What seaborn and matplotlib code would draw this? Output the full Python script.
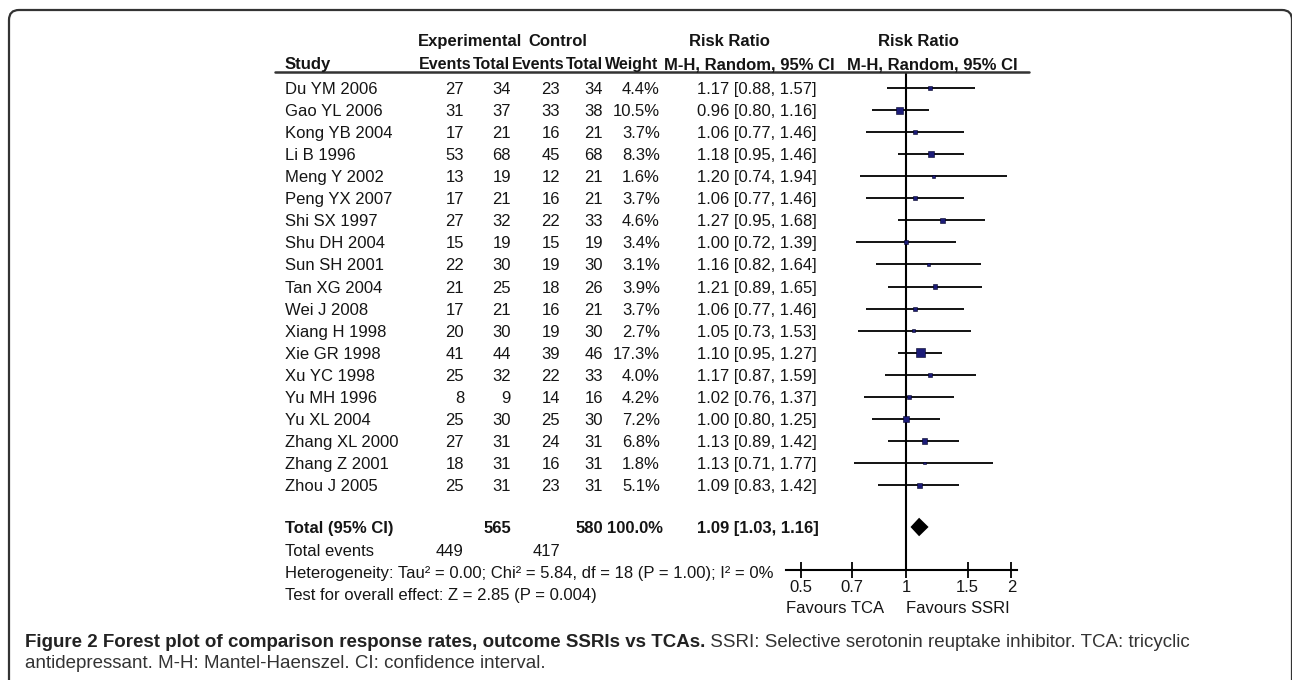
import numpy as np
import pandas as pd
import matplotlib
matplotlib.use("Agg")
import matplotlib.pyplot as plt
import matplotlib.transforms as mtransforms
from matplotlib.patches import FancyBboxPatch
from matplotlib import font_manager as fm
import seaborn as sns

# ---------------- data ----------------
studies = ["Du YM 2006", "Gao YL 2006", "Kong YB 2004", "Li B 1996", "Meng Y 2002",
           "Peng YX 2007", "Shi SX 1997", "Shu DH 2004", "Sun SH 2001", "Tan XG 2004",
           "Wei J 2008", "Xiang H 1998", "Xie GR 1998", "Xu YC 1998", "Yu MH 1996",
           "Yu XL 2004", "Zhang XL 2000", "Zhang Z 2001", "Zhou J 2005"]
exp_events = [27, 31, 17, 53, 13, 17, 27, 15, 22, 21, 17, 20, 41, 25, 8, 25, 27, 18, 25]
exp_total = [34, 37, 21, 68, 19, 21, 32, 19, 30, 25, 21, 30, 44, 32, 9, 30, 31, 31, 31]
ctrl_events = [23, 33, 16, 45, 12, 16, 22, 15, 19, 18, 16, 19, 39, 22, 14, 25, 24, 16, 23]
ctrl_total = [34, 38, 21, 68, 21, 21, 33, 19, 30, 26, 21, 30, 46, 33, 16, 30, 31, 31, 31]
weights = [4.4, 10.5, 3.7, 8.3, 1.6, 3.7, 4.6, 3.4, 3.1, 3.9, 3.7, 2.7, 17.3, 4.0, 4.2, 7.2, 6.8, 1.8, 5.1]
rr = [1.17, 0.96, 1.06, 1.18, 1.20, 1.06, 1.27, 1.00, 1.16, 1.21, 1.06, 1.05, 1.10, 1.17, 1.02, 1.00, 1.13, 1.13, 1.09]
ci_low = [0.88, 0.80, 0.77, 0.95, 0.74, 0.77, 0.95, 0.72, 0.82, 0.89, 0.77, 0.73, 0.95, 0.87, 0.76, 0.80, 0.89, 0.71, 0.83]
ci_high = [1.57, 1.16, 1.46, 1.46, 1.94, 1.46, 1.68, 1.39, 1.64, 1.65, 1.46, 1.53, 1.27, 1.59, 1.37, 1.25, 1.42, 1.77, 1.42]
total_rr, total_low, total_high = 1.09, 1.03, 1.16
total_exp_n, total_ctrl_n = 565, 580
total_exp_events, total_ctrl_events = 449, 417
total_weight = "100.0%"
axis_ticks = [0.5, 0.7, 1, 1.5, 2]
axis_tick_labels = ["0.5", "0.7", "1", "1.5", "2"]
favours_left, favours_right = "Favours TCA", "Favours SSRI"
column_heads = ["Events", "Total", "Events", "Total", "Weight"]
heterogeneity = "Heterogeneity: Tau\u00b2 = 0.00; Chi\u00b2 = 5.84, df = 18 (P = 1.00); I\u00b2 = 0%"
overall_test = "Test for overall effect: Z = 2.85 (P = 0.004)"
caption_bold = "Figure 2 Forest plot of comparison response rates, outcome SSRIs vs TCAs."
caption_rest1 = " SSRI: Selective serotonin reuptake inhibitor. TCA: tricyclic"
caption_rest2 = "antidepressant. M-H: Mantel-Haenszel. CI: confidence interval."

# ---------------- styling ----------------
sns.set_theme(style="white")
plt.rcParams['font.family'] = ['Liberation Sans', 'DejaVu Sans']
TXT = "#151515"
FS = 12
VA = "baseline"

W, H = 1292, 680
fig = plt.figure(figsize=(W / 100, H / 100), dpi=100)
fig.patch.set_facecolor("white")
renderer = fig.canvas.get_renderer()

def base_off(size):
    # distance (px) from visual centre of capitals to baseline
    return 0.36 * size * 100 / 72

def fx(px):
    return px / W

def fy(py, size=FS):
    return 1 - (py + base_off(size)) / H

# layout in pixels
row0, drow = 88, 22.06
ax_left, ax_right, ax_top, ax_bot = 786, 1017, 72, 570
x_one, px_per_ln = 906, 152

ax = fig.add_axes([ax_left / W, 1 - ax_bot / H, (ax_right - ax_left) / W, (ax_bot - ax_top) / H])
ax.set_facecolor("none")
ax.set_xscale("log")
ax.set_xlim(np.exp((ax_left - x_one) / px_per_ln), np.exp((ax_right - x_one) / px_per_ln))
ax.set_ylim((ax_bot - row0) / drow, (ax_top - row0) / drow)

n = len(studies)
rows = np.arange(n)
total_pos = n + 0.9

df = pd.DataFrame({"study": studies, "rr": rr, "lo": ci_low, "hi": ci_high,
                   "weight": weights, "row": rows})

# CI lines
ax.hlines(df["row"], df["lo"], df["hi"], color="black", lw=1.3, zorder=2)
# squares sized by weight (area proportional to weight)
c = 2.4
sns.scatterplot(data=df, x="rr", y="row", size="weight",
                sizes=(c * min(weights), c * max(weights)),
                size_norm=(min(weights), max(weights)),
                marker="s", color="#1c1c78", edgecolor="#000022", linewidth=0.4,
                legend=False, ax=ax, zorder=3)
# pooled diamond
dh = 0.42
ax.fill([total_low, total_rr, total_high, total_rr],
        [total_pos, total_pos - dh, total_pos, total_pos + dh],
        color="black", lw=0, zorder=3)
# line of no effect
ax.axvline(1, color="black", lw=1.5, zorder=1)

for s in ["top", "right", "left"]:
    ax.spines[s].set_visible(False)
ax.spines["bottom"].set_color("black")
ax.spines["bottom"].set_linewidth(1.5)
ax.set_xticks(axis_ticks)
ax.set_xticklabels(axis_tick_labels)
ax.xaxis.set_minor_locator(matplotlib.ticker.NullLocator())
ax.tick_params(axis="x", direction="inout", length=11, width=1.3, color="black",
               labelsize=FS, labelcolor=TXT, pad=2, bottom=True)
ax.set_yticks([])
ax.set_xlabel("")
ax.set_ylabel("")

# Favours labels
fig.text(fx(835), fy(607), favours_left, ha="center", va=VA, fontsize=FS, color=TXT)
fig.text(fx(958), fy(607), favours_right, ha="center", va=VA, fontsize=FS, color=TXT)

# ---------------- table ----------------
tr = mtransforms.blended_transform_factory(fig.transFigure, ax.transData)
row_off = base_off(FS) / drow

def cell(px, row, s, ha="left", bold=False):
    fig.text(fx(px), row + row_off, s, transform=tr, ha=ha, va=VA, fontsize=FS, color=TXT,
             fontweight="bold" if bold else "normal")

x_study, x_ee, x_et, x_ce, x_ct, x_w, x_ci = 285, 464, 511, 560, 603, 660, 697
for i in range(n):
    cell(x_study, i, studies[i])
    cell(x_ee, i, str(exp_events[i]), "right")
    cell(x_et, i, str(exp_total[i]), "right")
    cell(x_ce, i, str(ctrl_events[i]), "right")
    cell(x_ct, i, str(ctrl_total[i]), "right")
    cell(x_w, i, f"{weights[i]:.1f}%", "right")
    cell(x_ci, i, f"{rr[i]:.2f} [{ci_low[i]:.2f}, {ci_high[i]:.2f}]")

cell(x_study, total_pos, "Total (95% CI)", bold=True)
cell(x_et, total_pos, str(total_exp_n), "right", bold=True)
cell(x_ct, total_pos, str(total_ctrl_n), "right", bold=True)
cell(x_w + 3, total_pos, total_weight, "right", bold=True)
cell(x_ci, total_pos, f"{total_rr:.2f} [{total_low:.2f}, {total_high:.2f}]", bold=True)

fig.text(fx(x_study), fy(550), "Total events", ha="left", va=VA, fontsize=FS, color=TXT)
fig.text(fx(x_ee), fy(550), str(total_exp_events), ha="right", va=VA, fontsize=FS, color=TXT)
fig.text(fx(x_ce), fy(550), str(total_ctrl_events), ha="right", va=VA, fontsize=FS, color=TXT)
fig.text(fx(x_study), fy(572), heterogeneity, ha="left", va=VA, fontsize=FS, color=TXT)
fig.text(fx(x_study), fy(594), overall_test, ha="left", va=VA, fontsize=FS, color=TXT)

# headers
def head(px, py, s, ha="left", size=FS):
    return fig.text(fx(px), fy(py, size), s, ha=ha, va=VA, fontsize=size, color=TXT,
                    fontweight="bold")

head(418, 40, "Experimental")
head(587, 40, "Control", "right")
head(729, 40, "Risk Ratio", "center")
head(918, 40, "Risk Ratio", "center")
head(285, 63, "Study")
# column heads packed tightly as in the original
xcur = 419
for lab in column_heads:
    t = head(xcur, 63, lab, size=11.5)
    xcur += t.get_window_extent(renderer).width + 1.5
head(835, 63, "M-H, Random, 95% CI", "right")
head(847, 63, "M-H, Random, 95% CI")
fig.add_artist(matplotlib.lines.Line2D([275 / W, 1029 / W], [1 - 72 / H, 1 - 72 / H],
                                       color="#333333", lw=1.8))

# ---------------- border ----------------
box = FancyBboxPatch((0.09, -0.5), 12.83, 7.2, boxstyle="round,pad=0,rounding_size=0.1",
                     transform=fig.dpi_scale_trans, fill=False, ec="#333333", lw=1.6)
fig.add_artist(box)

# ---------------- caption ----------------
names = {f.name for f in fm.fontManager.ttflist}
cap_family = "Liberation Sans Narrow" if "Liberation Sans Narrow" in names else "Liberation Sans"
cap_fs = 12.0
t1 = fig.text(fx(25), fy(640, cap_fs), caption_bold, ha="left", va=VA, fontsize=cap_fs,
              family=cap_family, fontweight="bold", color="#222222")
t2 = fig.text(fx(25), fy(640, cap_fs), caption_rest1, ha="left", va=VA, fontsize=cap_fs,
              family=cap_family, color="#333333")
t3 = fig.text(fx(25), fy(661, cap_fs), caption_rest2, ha="left", va=VA, fontsize=cap_fs,
              family=cap_family, color="#333333")
w1 = t1.get_window_extent(renderer).width
w2 = t2.get_window_extent(renderer).width
scale = (1187 - 25) / (w1 + w2)
cap_fs *= scale
for t in (t1, t2, t3):
    t.set_fontsize(cap_fs)
t1.set_y(fy(640, cap_fs)); t2.set_y(fy(640, cap_fs)); t3.set_y(fy(661, cap_fs))
w1 = t1.get_window_extent(renderer).width
t2.set_x(fx(25 + w1))

fig.savefig("out.png", dpi=100, facecolor="white")
